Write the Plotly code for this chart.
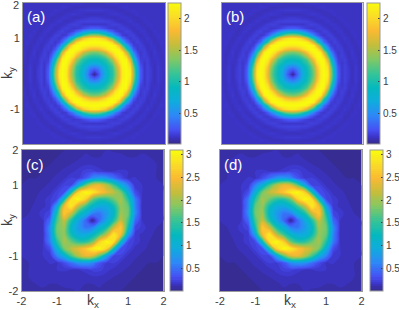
import numpy as np
import plotly.graph_objects as go

W, H = 399, 310
k_fine = [round(-2 + 0.1 * i, 1) for i in range(41)]
k_axis = [-2.0, -1.8, -1.6, -1.4, -1.2, -1.0, -0.8, -0.6, -0.4, -0.2, 0.0,
          0.2, 0.4, 0.6, 0.8, 1.0, 1.2, 1.4, 1.6, 1.8, 2.0]

# Quadrant of panels (a)/(b), read at k = 0, 0.1, ... 2
ring_quadrant = np.array([
 [.02,.22,.47,.7,.9,1.05,1.32,1.75,2.15,2.25,2.15,1.45,.7,.28,.13,.18,.14,.1,.14,.11,.1],
 [.22,.33,.52,.73,.92,1.07,1.35,1.78,2.16,2.25,2.12,1.41,.68,.27,.13,.18,.14,.1,.14,.11,.1],
 [.47,.52,.66,.82,.97,1.13,1.45,1.87,2.2,2.25,2.03,1.3,.6,.24,.13,.18,.13,.1,.14,.11,.1],
 [.7,.73,.82,.94,1.05,1.26,1.61,2.02,2.23,2.25,1.9,1.13,.52,.2,.13,.17,.12,.11,.13,.1,.11],
 [.9,.92,.97,1.05,1.21,1.48,1.85,2.16,2.25,2.2,1.63,.9,.39,.16,.15,.17,.11,.12,.13,.1,.12],
 [1.05,1.07,1.13,1.26,1.48,1.78,2.08,2.24,2.25,2.0,1.3,.66,.28,.14,.17,.15,.1,.13,.12,.1,.12],
 [1.32,1.35,1.45,1.61,1.85,2.08,2.23,2.25,2.15,1.6,.94,.44,.19,.13,.17,.13,.1,.14,.11,.1,.13],
 [1.75,1.78,1.87,2.02,2.16,2.24,2.25,2.18,1.75,1.13,.6,.27,.14,.16,.16,.11,.12,.13,.1,.11,.12],
 [2.15,2.16,2.2,2.23,2.25,2.25,2.15,1.75,1.2,.68,.34,.16,.14,.17,.13,.1,.13,.12,.1,.12,.11],
 [2.25,2.25,2.25,2.25,2.2,2.0,1.6,1.13,.68,.36,.19,.13,.18,.15,.11,.12,.13,.1,.11,.13,.11],
 [2.15,2.12,2.03,1.9,1.63,1.3,.94,.6,.34,.19,.13,.17,.16,.12,.11,.14,.11,.1,.12,.11,.11],
 [1.45,1.41,1.3,1.13,.9,.66,.44,.27,.16,.13,.17,.17,.12,.1,.13,.12,.1,.11,.13,.11,.11],
 [.7,.68,.6,.52,.39,.28,.19,.14,.14,.18,.16,.12,.1,.13,.13,.1,.1,.13,.11,.11,.11],
 [.28,.27,.24,.2,.16,.14,.13,.16,.17,.15,.12,.1,.13,.13,.11,.1,.12,.11,.11,.11,.11],
 [.13,.13,.13,.13,.15,.17,.17,.16,.13,.11,.11,.13,.13,.11,.1,.12,.12,.11,.11,.11,.11],
 [.18,.18,.18,.17,.17,.15,.13,.11,.1,.12,.14,.12,.1,.1,.12,.12,.11,.11,.11,.11,.11],
 [.14,.14,.13,.12,.11,.1,.1,.12,.13,.13,.11,.1,.1,.12,.12,.11,.11,.11,.11,.11,.11],
 [.1,.1,.1,.11,.12,.13,.14,.13,.12,.1,.1,.11,.13,.11,.11,.11,.11,.11,.11,.11,.11],
 [.14,.14,.14,.13,.13,.12,.11,.1,.1,.11,.12,.13,.11,.11,.11,.11,.11,.11,.11,.11,.11],
 [.11,.11,.11,.1,.1,.1,.1,.11,.12,.13,.11,.11,.11,.11,.11,.11,.11,.11,.11,.11,.11],
 [.1,.1,.1,.11,.12,.12,.13,.12,.11,.11,.11,.11,.11,.11,.11,.11,.11,.11,.11,.11,.11],
])
# Upper half of panel (c), rows k_y = 0, 0.2 ... 2, columns k_x = -2, -1.8 ... 2
tilted_upper = np.array([
 [.1,.11,.11,.15,.45,1.63,2.2,1.41,.91,.46,.02,.46,.91,1.41,2.2,1.63,.45,.15,.11,.11,.1],
 [.1,.1,.12,.18,.25,1.35,2.65,2.2,1.37,1.03,.59,.51,.78,1.15,2.0,1.8,.65,.14,.12,.12,.1],
 [.1,.09,.11,.14,.17,.85,2.45,2.95,2.14,1.55,1.15,.93,.95,1.31,1.95,1.75,.6,.13,.12,.12,.1],
 [.08,.08,.1,.13,.19,.26,1.2,2.85,3.1,2.7,1.76,1.43,1.47,1.76,2.05,1.45,.55,.14,.13,.12,.1],
 [.06,.07,.08,.12,.13,.23,.3,1.25,2.7,3.1,2.95,2.6,2.35,2.15,1.8,1.0,.28,.15,.12,.13,.1],
 [.05,.06,.07,.08,.12,.14,.24,.25,.85,1.7,2.3,2.4,2.1,1.6,1.0,.6,.16,.15,.1,.11,.1],
 [.05,.05,.05,.06,.08,.13,.14,.21,.2,.32,.65,.75,.7,.5,.28,.15,.16,.11,.12,.1,.1],
 [.04,.04,.05,.05,.06,.08,.12,.13,.17,.22,.22,.17,.15,.15,.16,.15,.11,.11,.12,.1,.1],
 [.04,.04,.04,.05,.05,.06,.07,.1,.12,.14,.14,.12,.11,.11,.12,.13,.13,.11,.12,.1,.1],
 [.04,.04,.04,.04,.04,.05,.06,.07,.09,.11,.1,.1,.11,.12,.12,.1,.1,.11,.1,.1,.09],
 [.03,.03,.03,.04,.04,.04,.05,.06,.08,.09,.09,.1,.1,.09,.08,.08,.09,.09,.08,.08,.07],
])

ab_ticks = [0.5, 1, 1.5, 2]
cd_ticks = [0.5, 1, 1.5, 2, 2.5, 3]
ab_range = (0.01, 2.25)
cd_range = (0.0, 3.11)
panel_labels = ["(a)", "(b)", "(c)", "(d)"]

top = np.hstack([ring_quadrant[:, :0:-1], ring_quadrant])
z_ring = np.vstack([top[:0:-1], top])
z_c = np.vstack([tilted_upper[:0:-1, ::-1], tilted_upper])
z_d = z_c[:, ::-1]

parula = [[0, "rgb(53,42,135)"], [.05, "rgb(60,52,200)"], [.1, "rgb(70,80,243)"], [.2, "rgb(46,135,247)"],
          [.3, "rgb(15,172,222)"], [.4, "rgb(5,185,190)"], [.5, "rgb(55,196,150)"], [.6, "rgb(130,200,100)"],
          [.7, "rgb(195,190,60)"], [.8, "rgb(250,185,50)"], [.9, "rgb(250,220,40)"], [1, "rgb(249,251,14)"]]

INK = "#404040"
FRAME = "#9a9a9a"
FONT = "Liberation Sans"
boxes = [(23, 165, 3, 144, 168), (221.5, 362.5, 3, 144, 366.5),
         (21.5, 163.5, 150, 291, 169.5), (220, 361.5, 150, 291, 370)]
data = [z_ring, z_ring, z_c, z_d]
grids = [k_fine, k_fine, k_axis, k_axis]
ranges = [ab_range, ab_range, cd_range, cd_range]
cticks = [ab_ticks, ab_ticks, cd_ticks, cd_ticks]

fig = go.Figure()
for n, (l, r, t, b, cb) in enumerate(boxes):
    s = "" if n == 0 else str(n + 1)
    cbar = dict(x=cb / W, xanchor="left", xpad=0, y=1 - t / H, yanchor="top", ypad=0,
                len=(b - t) / H, lenmode="fraction", thickness=13, thicknessmode="pixels",
                tickvals=cticks[n], ticktext=[f"{v:g}" for v in cticks[n]],
                ticks="inside", ticklen=2, tickcolor=INK, tickwidth=0.6,
                outlinecolor=FRAME, outlinewidth=1, borderwidth=0,
                tickfont=dict(family=FONT, size=10, color=INK))
    common = dict(x=grids[n], y=grids[n], z=data[n], colorscale=parula,
                  zmin=ranges[n][0], zmax=ranges[n][1], xaxis="x" + s, yaxis="y" + s, colorbar=cbar)
    if n < 2:
        fig.add_trace(go.Heatmap(zsmooth="best", **common))
    else:
        fig.add_trace(go.Contour(contours=dict(coloring="fill", start=0.0, end=3.1, size=0.05, showlines=False),
                                 line=dict(width=0, smoothing=1.3), autocontour=False, **common))
    xvals = [-2, -1, 1, 2] if n >= 2 else []
    yvals = [1, -1] if n == 0 else ([2, 1, -1, -2] if n == 2 else [])
    fig.update_layout({
        "xaxis" + s: dict(domain=[l / W, r / W], range=[-2, 2], tickvals=xvals, ticktext=[str(v) for v in xvals],
                          ticks="", showgrid=False, zeroline=False, showline=True, mirror=True,
                          linecolor=FRAME, linewidth=1, anchor="y" + s,
                          tickfont=dict(family=FONT, size=11, color=INK)),
        "yaxis" + s: dict(domain=[1 - b / H, 1 - t / H], range=[-2, 2], tickvals=yvals, ticktext=[str(v) for v in yvals],
                          ticks="", showgrid=False, zeroline=False, showline=True, mirror=True,
                          linecolor=FRAME, linewidth=1, anchor="x" + s,
                          tickfont=dict(family=FONT, size=11, color=INK)),
    })
    fig.add_annotation(text=panel_labels[n], x=(l + 2) / W, y=1 - (t + 14) / H, xref="paper", yref="paper",
                       xanchor="left", yanchor="middle", showarrow=False,
                       font=dict(family=FONT, size=15, color="white"))
# The top "2" of panel (a) sits at the page edge, where an axis tick label is dropped
fig.add_annotation(text="2", x=20 / W, y=1 - 5.5 / H, xref="paper", yref="paper", xanchor="right", yanchor="middle",
                   showarrow=False, borderpad=0, font=dict(family=FONT, size=11, color=INK))
for cx in (93, 290):
    fig.add_annotation(text="k<sub>x</sub>", x=cx / W, y=1 - 301 / H, xref="paper", yref="paper",
                       xanchor="center", yanchor="middle",
                       showarrow=False, font=dict(family=FONT, size=14, color=INK))
for cy in (73, 220):
    fig.add_annotation(text="k<sub>y</sub>", x=8 / W, y=1 - cy / H, xref="paper", yref="paper", textangle=-90,
                       xanchor="center", yanchor="middle",
                       showarrow=False, font=dict(family=FONT, size=14, color=INK))
fig.update_layout(width=W, height=H, margin=dict(l=0, r=0, t=0, b=0, autoexpand=False), paper_bgcolor="white",
                  plot_bgcolor="white", showlegend=False)
fig.write_html("out.html", post_script="document.body.style.margin='0';", config={"displayModeBar": False})
